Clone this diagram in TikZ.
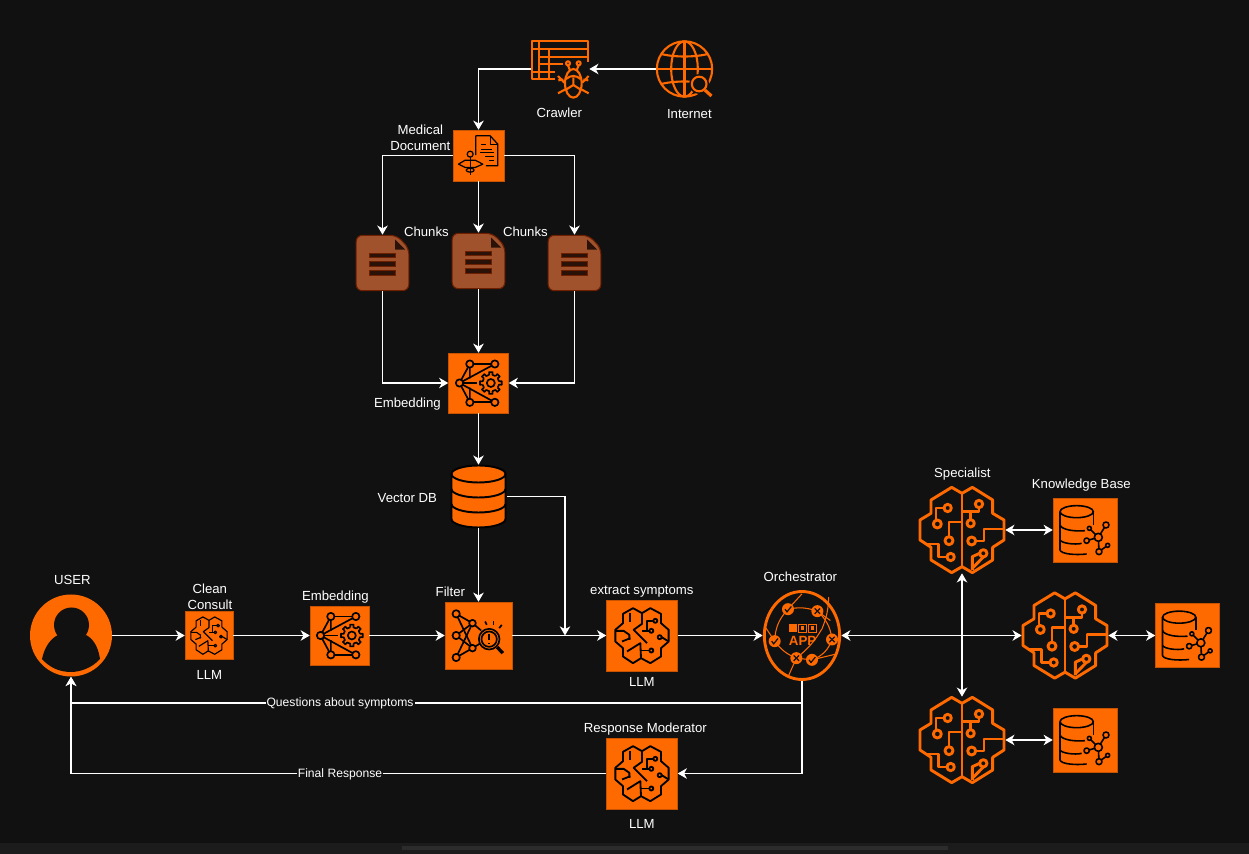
\documentclass[tikz,border=0pt]{standalone}
\usepackage{fontspec}
\setmainfont{Liberation Sans}
\usepackage{tikz}
\usetikzlibrary{shapes.geometric, arrows.meta}

\definecolor{bgdark}{HTML}{111111}
\definecolor{awsorange}{HTML}{FF6A00}
\definecolor{boxedge}{HTML}{C75300}
\definecolor{chunkfill}{HTML}{A0522D}
\definecolor{chunkedge}{HTML}{6D1F00}
\definecolor{chunkdark}{HTML}{2A1208}
\definecolor{barband}{HTML}{1C1C1C}
\definecolor{barthumb}{HTML}{2C2C2C}

\def\iconlw{1pt}

\tikzset{
    lbl/.style={text=white, font=\fontsize{7.5}{9.1}\selectfont, align=center, inner sep=0pt, xshift=0.2pt, yshift=-0.57pt},
    edgelbl/.style={text=white, fill=bgdark, font=\fontsize{6.9}{8}\selectfont, inner sep=0.6pt, yshift=-0.3pt},
    iconbox/.style={fill=awsorange, draw=boxedge, line width=0.3pt, minimum size=#1*0.02cm, inner sep=0pt},
    iconslot/.style={minimum size=#1*0.02cm, inner sep=0pt},
    link/.style={draw=white, line width=0.62pt, -{Stealth[length=5.2pt,width=6pt,inset=1.6pt]}},
    bilink/.style={draw=white, line width=0.62pt, {Stealth[length=5.2pt,width=6pt,inset=1.6pt]}-{Stealth[length=5.2pt,width=6pt,inset=1.6pt]}},
    iconpen/.style={every path/.style={line width=\iconlw, line join=round}},
    % brain with circuit traces, specialists
    agentbrain/.pic={
        \tikzset{iconpen}
        \draw (0,-110) -- (-31,-128) -- (-93,-90) -- (-93,-50) -- (-126,-30) -- (-126,30) -- (-93,52) -- (-93,90) -- (-31,128) -- (0,110) -- (31,128) -- (92,90) -- (92,52) -- (126,30) -- (126,-30) -- (92,-50) -- (92,-90) -- (31,-128) -- cycle;
        \draw (0,-110) -- (0,110);
        \draw (-43,-66) circle[radius=11];
        \draw (-54,-66) -- (-78,-66) -- (-78,-30);
        \draw (-74,-18) circle[radius=12];
        \draw (51,-78) circle[radius=11];
        \draw (51,-67) -- (51,-55) -- (0,-55);
        \draw (26,-20) circle[radius=11];
        \draw (26,-55) -- (26,-31);
        \draw (-39,32) circle[radius=12];
        \draw (-39,20) -- (-39,-24) -- (0,-24);
        \draw (29,33) circle[radius=12];
        \draw (41,33) -- (66,33) -- (66,-3) -- (126,-3);
        \draw (-34,81) circle[radius=11];
        \draw (-45,81) -- (-71,81) -- (-71,42) -- (-112,42);
        \draw (64,70) circle[radius=11];
        \draw (53,70) -- (31,80) -- (31,120);
        \draw (31,115) -- (64,81);
    },
    % smaller brain, LLM boxes
    llmbrain/.pic={
        \tikzset{iconpen}
        \draw (0,-67) -- (-27,-82) -- (-57,-65) -- (-57,-37) -- (-80,-17) -- (-80,18) -- (-57,38) -- (-57,63) -- (-27,83) -- (-3,68) -- (25,83) -- (57,63) -- (57,38) -- (80,18) -- (80,-17) -- (57,-37) -- (57,-65) -- (25,-82) -- cycle;
        \draw (0,-67) -- (0,-35) -- (-25,-17) -- (15,23);
        \draw (-37,-67) -- (-37,-40);
        \draw (-80,-14) -- (-55,-14) -- (-38,-2) -- (-38,13);
        \draw (-60,18) -- (-35,8);
        \draw (-45,48) -- (-5,23) -- (-3,68);
        \draw (40,-44) circle[radius=6];
        \draw (34,-44) -- (15,-44) -- (15,-14);
        \draw (28,-14) circle[radius=6];
        \draw (22,-14) -- (0,-14);
        \draw (53,5) circle[radius=6];
        \draw (59,5) -- (80,18);
        \draw (28,45) circle[radius=6];
        \draw (22,45) -- (-3,45);
    },
    % network with gear
    embedicon/.pic={
        \tikzset{iconpen}
        \draw (-26,-57) -- (49,-57);
        \draw (-26,58) -- (49,58);
        \draw (-57,0) -- (-26,-57) -- (-26,-14);
        \draw (-57,0) -- (-26,58) -- (-26,14);
        \draw (-57,0) -- (49,-57);
        \draw (-57,0) -- (49,58);
        \draw (-57,0) -- (-4,0);
        \foreach \p in {(-26,-57),(49,-57),(-57,0),(-26,58),(49,58)}
            \draw[fill=awsorange] \p circle[radius=11];
        \begin{scope}[shift={(37,0)}]
            \fill[awsorange] (0,0) circle[radius=33];
            \foreach \a in {0,45,...,315}
                \draw (\a-11:25) -- (\a-9:33) -- (\a+9:33) -- (\a+11:25) -- (\a+34:25);
            \draw (0,0) circle[radius=12];
        \end{scope}
    },
    % network with magnifier
    filtericon/.pic={
        \tikzset{iconpen}
        \foreach \a in {-65,0,66}
            \foreach \b in {-37,38}
                \draw (-67,\a) -- (-18,\b);
        \draw (-18,-37) -- (8,-15);
        \draw (-18,38) -- (8,22);
        \foreach \p in {(-67,-65),(-67,0),(-67,66)}
            \draw[fill=awsorange] \p circle[radius=11];
        \foreach \p in {(-18,-37),(-18,38)}
            \draw[fill=awsorange] \p circle[radius=10];
        \draw[fill=awsorange] (32,11) circle[radius=31];
        \draw (32,11) circle[radius=23];
        \draw (32,-3) -- (32,14);
        \draw (32,23) -- (32,24);
        \draw[line width=2*\pgflinewidth] (56,35) -- (73,53);
        \draw (20,-42) -- (25,-32);
        \draw (45,-42) -- (45,-32);
        \draw (70,-32) -- (62,-22);
    },
    % database with small graph
    kbicon/.pic={
        \tikzset{iconpen}
        \draw (-25,-55) ellipse[x radius=50, y radius=18];
        \draw (-75,-55) -- (-75,60) .. controls (-72,72) and (-30,76) .. (5,72);
        \draw (25,-55) -- (25,-15);
        \draw (-75,-15) .. controls (-70,0) and (-30,5) .. (0,2);
        \draw (-75,30) .. controls (-70,40) and (-30,45) .. (-10,40);
        \draw (40,22) -- (63,-15);
        \draw (40,22) -- (13,-5);
        \draw (40,22) -- (5,32);
        \draw (40,22) -- (42,65);
        \draw (42,65) -- (68,46);
        \draw[fill=awsorange] (40,22) circle[radius=12];
        \draw[fill=awsorange] (63,-15) circle[radius=9];
        \draw[fill=awsorange] (13,-5) circle[radius=6];
        \draw[fill=awsorange] (5,32) circle[radius=8];
        \draw[fill=awsorange] (42,65) circle[radius=9];
        \draw[fill=awsorange] (68,46) circle[radius=6];
    },
    % document with caduceus
    medicon/.pic={
        \tikzset{iconpen}
        \draw (-8,-1) -- (-8,-59) -- (35,-59) -- (58,-34) -- (58,31) -- (22,31);
        \draw (35,-59) -- (35,-34) -- (58,-34);
        \draw (7,-34) -- (23,-34);
        \draw (7,-18) -- (40,-18);
        \draw (5,-8) -- (47,-8);
        \draw (20,4) -- (47,4);
        \draw (30,16) -- (47,16);
        \draw (-25,-4) circle[radius=9];
        \draw (-25,5) -- (-25,59);
        \draw (-60,26) -- (-40,14) -- (-10,14) -- (13,26) -- (-10,36) -- (-40,36) -- cycle;
        \draw (-25,44) ellipse[x radius=12, y radius=6];
    },
    % chunk of a document
    chunkicon/.pic={
        \draw[fill=chunkfill, draw=chunkedge, line width=0.6pt, rounded corners=3.5pt] (-79,-83) -- (42,-83) -- (79,-45) -- (79,83) -- (-79,83) -- cycle;
        \fill[chunkdark] (38,-70) -- (68,-40) -- (38,-40) -- cycle;
        \foreach \y in {-30,-4,22}
            \draw[fill=chunkdark, draw=chunkedge, line width=0.4pt] (-38,\y) rectangle (38,\y+14);
    },
    % table with bug
    crawlericon/.pic={
        \tikzset{iconpen}
        \draw (85,-17) -- (85,-84) -- (-85,-84) -- (-85,31) -- (-15,31);
        \draw (-63,-84) -- (-63,31);
        \draw (-85,-59) -- (85,-59);
        \draw (-63,-37) -- (85,-37);
        \draw (-63,-15) -- (10,-15);
        \draw (-85,8) -- (-15,8);
        \draw (-33,-59) -- (-33,31);
        \begin{scope}[shift={(40,38)}]
            \fill[bgdark] (-32,-60) rectangle (52,50);
            \draw (0,5) ellipse[x radius=25, y radius=43];
            \draw (-22,-8) .. controls (-8,-20) and (8,-20) .. (22,-8);
            \draw (0,-13) -- (0,10) -- (-24,25);
            \draw (0,10) -- (24,25);
            \draw (-16,-55) circle[radius=6];
            \draw (16,-55) circle[radius=6];
            \draw (-16,-49) -- (-10,-34);
            \draw (16,-49) -- (10,-34);
            \draw (-46,-17) -- (-27,3);
            \draw (46,-17) -- (27,3);
            \draw (-46,35) -- (-22,22);
            \draw (46,35) -- (22,22);
            \draw (-30,-6) -- (-45,-4);
            \draw (30,-6) -- (45,-4);
        \end{scope}
    },
    % globe with magnifier
    globeicon/.pic={
        \tikzset{iconpen}
        \draw (0,0) circle[radius=83];
        \draw (0,0) ellipse[x radius=40, y radius=83];
        \draw (0,-83) -- (0,83);
        \draw (-83,0) -- (83,0);
        \draw (-70,-45) .. controls (-30,-35) and (30,-35) .. (70,-45);
        \draw (-70,45) .. controls (-30,35) and (30,35) .. (70,45);
        \fill[bgdark] (44,45) circle[radius=30];
        \fill[bgdark] (62,70) circle[radius=20];
        \draw (44,45) circle[radius=22];
        \draw[line width=1.5*\pgflinewidth] (61,63) -- (81,81);
    },
    checkdot/.pic={
        \fill[awsorange] (0,0) circle[radius=18];
        \draw[bgdark, line width=0.7pt] (-9,0) -- (-3,8) -- (10,-8);
    },
    crossdot/.pic={
        \fill[awsorange] (0,0) circle[radius=18];
        \draw[bgdark, line width=0.7pt] (-8,-8) -- (8,8);
        \draw[bgdark, line width=0.7pt] (-8,8) -- (8,-8);
    },
    % agent network with check and cross marks
    orchicon/.pic={
        \draw[line width=1.65pt] (0,0) ellipse[x radius=113, y radius=132];
        \begin{scope}[line width=0.6pt]
            \draw (-42,-79) to[bend left=15] (46,-73);
            \draw (46,-73) to[bend left=20] (90,12);
            \draw (-42,-79) to[bend right=20] (-82,17);
            \draw (-82,17) to[bend right=15] (-17,68);
            \draw (-17,68) -- (30,73);
            \draw (30,73) to[bend right=25] (90,12);
            \draw (-42,-79) -- (0,-125);
            \draw (-82,17) -- (-110,-25);
            \draw (-17,68) -- (-40,120);
            \draw (30,73) -- (105,55);
            \draw (46,-73) -- (85,-45);
            \draw (-17,68) to[bend right=10] (60,-20);
            \draw (60,-20) to[bend right=10] (80,-115);
        \end{scope}
        \pic[transform shape] at (-42,-79) {checkdot};
        \pic[transform shape] at (46,-73) {crossdot};
        \pic[transform shape] at (-82,17) {checkdot};
        \pic[transform shape] at (90,12) {crossdot};
        \pic[transform shape] at (-17,68) {crossdot};
        \pic[transform shape] at (30,73) {checkdot};
        \fill[bgdark] (-45,-36) rectangle (48,-8);
        \fill (-38,-33) rectangle (-15,-10);
        \draw[line width=0.5pt] (-10,-33) rectangle (12,-10);
        \draw[line width=0.5pt] (20,-33) rectangle (44,-10);
        \fill (-4,-28) rectangle (6,-15);
        \fill (27,-27) rectangle (37,-16);
        \node[text=awsorange, font=\fontsize{7.6}{8}\bfseries\selectfont, inner sep=0pt] (appname) at (2,17) {APP};
    },
}

\begin{document}
\begin{tikzpicture}[x=0.02cm, y=-0.02cm]
    \useasboundingbox (0,0) rectangle (1249,854);
    % Draw the dark canvas and the scroll bar
    \fill[bgdark] (0,0) rectangle (1249,854);
    \fill[barband] (0,843) rectangle (1249,854);
    \fill[barthumb] (402,846) rectangle (948,850);

    % Ingestion nodes
    \node[iconslot=57] (internet) at (684.5,69) {};
    \node[iconslot=58] (crawler) at (560,69) {};
    \node[iconbox=51] (medical) at (478.5,155.5) {};
    \node[iconslot=53, minimum height=56*0.02cm] (chunkleft) at (382.5,263) {};
    \node[iconslot=53, minimum height=56*0.02cm] (chunkmid) at (478.5,261) {};
    \node[iconslot=53, minimum height=56*0.02cm] (chunkright) at (574.5,263) {};
    \node[iconbox=60] (embedtop) at (478.5,383) {};
    \node[iconslot=56, minimum height=63*0.02cm] (vectordb) at (478.5,496.5) {};

    % Consultation nodes
    \node[circle, fill=awsorange, iconslot=82] (user) at (71,635.5) {};
    \node[iconbox=48] (clean) at (209,635.5) {};
    \node[iconbox=59] (embedlow) at (339.5,635.5) {};
    \node[iconbox=67] (filter) at (478.5,635.5) {};
    \node[iconbox=71] (extract) at (642,635.5) {};
    \node[ellipse, iconslot=78, minimum height=90*0.02cm] (orch) at (802,635.5) {};
    \node[iconbox=71] (moderator) at (642,773.5) {};

    % Specialists and their knowledge bases
    \node[iconslot=86] (specialist) at (962,530) {};
    \node[iconslot=86] (brainmid) at (1065,635.5) {};
    \node[iconslot=86] (brainlow) at (962,740) {};
    \node[iconbox=64] (kbtop) at (1085,530) {};
    \node[iconbox=64] (kbmid) at (1187.5,635.5) {};
    \node[iconbox=64] (kblow) at (1085,740) {};

    % Draw the icons
    \def\iconlw{1.2pt}
    \pic[awsorange, scale=1/3] at (internet) {globeicon};
    \pic[awsorange, scale=1/3] at (crawler) {crawlericon};
    \def\iconlw{0.7pt}
    \pic[black, scale=1/3] at (medical) {medicon};
    \pic[scale=1/3] at (chunkleft) {chunkicon};
    \pic[scale=1/3] at (chunkmid) {chunkicon};
    \pic[scale=1/3] at (chunkright) {chunkicon};
    \def\iconlw{0.95pt}
    \pic[black, scale=1/3] at (embedtop) {embedicon};
    \pic[black, scale=1/3] at (embedlow) {embedicon};
    \pic[black, scale=1/3] at (filter) {filtericon};
    \def\iconlw{0.65pt}
    \pic[black, scale=0.2264] at (clean) {llmbrain};
    \def\iconlw{1.05pt}
    \pic[black, scale=1/3] at (extract) {llmbrain};
    \pic[black, scale=1/3] at (moderator) {llmbrain};
    \def\iconlw{1.65pt}
    \pic[awsorange, scale=1/3] at (specialist) {agentbrain};
    \pic[awsorange, scale=1/3] at (brainmid) {agentbrain};
    \pic[awsorange, scale=1/3] at (brainlow) {agentbrain};
    \def\iconlw{0.9pt}
    \pic[black, scale=1/3] at (kbtop) {kbicon};
    \pic[black, scale=1/3] at (kbmid) {kbicon};
    \pic[black, scale=1/3] at (kblow) {kbicon};
    \pic[awsorange, scale=1/3] at (orch) {orchicon};

    % Draw the database
    \draw[fill=awsorange, draw=black, line width=1.1pt] (451.5,474) -- (451.5,519) arc[start angle=180, end angle=0, x radius=27, y radius=8.5] -- (505.5,474) arc[start angle=0, end angle=-180, x radius=27, y radius=8.5] -- cycle;
    \draw[black, line width=1.1pt] (451.5,474) arc[start angle=180, end angle=0, x radius=27, y radius=8.5];
    \draw[black, line width=1.1pt] (451.5,489) arc[start angle=180, end angle=0, x radius=27, y radius=8.5];
    \draw[black, line width=1.1pt] (451.5,504) arc[start angle=180, end angle=0, x radius=27, y radius=8.5];

    % Draw the user
    \fill[bgdark] (42,659) .. controls (45,645) and (52,638) .. (58,635) .. controls (62,642) and (80,642) .. (86,635) .. controls (92,638) and (98,645) .. (100,659) .. controls (92,668) and (80,672) .. (71,672) .. controls (60,672) and (50,668) .. (42,659) -- cycle;
    \fill[bgdark] (71.5,625) circle[radius=17.5];

    % Draw the connectors
    \draw[link] (internet.west) -- (crawler.east);
    \draw[link] (crawler.west) -| (medical.north);
    \draw[link] (medical.west) -| (chunkleft.north);
    \draw[link] (medical.south) -- (chunkmid.north);
    \draw[link] (medical.east) -| (chunkright.north);
    \draw[link] (chunkleft.south) |- (embedtop.west);
    \draw[link] (chunkmid.south) -- (embedtop.north);
    \draw[link] (chunkright.south) |- (embedtop.east);
    \draw[link] (embedtop.south) -- (vectordb.north);
    \draw[link] (vectordb.south) -- (filter.north);
    \coordinate (merge) at (565,635.5);
    \draw[link] (vectordb.east) -| (merge);
    \draw[link] (user.east) -- (clean.west);
    \draw[link] (clean.east) -- (embedlow.west);
    \draw[link] (embedlow.east) -- (filter.west);
    \draw[link] (filter.east) -- (extract.west);
    \draw[link] (extract.east) -- (orch.west);
    \draw[bilink] (orch.east) -- (brainmid.west);
    \draw[bilink] (specialist.south) -- (brainlow.north);
    \draw[bilink] (specialist.east) -- (kbtop.west);
    \draw[bilink] (brainmid.east) -- (kbmid.west);
    \draw[bilink] (brainlow.east) -- (kblow.west);
    \coordinate (questions) at (340,703);
    \coordinate (final) at (340,773.5);
    \draw[link] (orch.south) |- (questions) -| (user.south);
    \draw[link] (orch.south) |- (moderator.east);
    \draw[link] (moderator.west) -- (final) -| (user.south);
    \node[edgelbl] (questionslbl) at (questions) {Questions about symptoms};
    \node[edgelbl] (finallbl) at (final) {Final Response};

    % Label the nodes
    \node[lbl] (internetlbl) at (689,113) {Internet};
    \node[lbl] (crawlerlbl) at (559,112) {Crawler};
    \node[lbl] (medicallbl) at (420,137) {Medical\\Document};
    \node[lbl] (chunkslblleft) at (426,231) {Chunks};
    \node[lbl] (chunkslblright) at (525,231) {Chunks};
    \node[lbl] (embedtoplbl) at (407,403) {Embedding};
    \node[lbl] (vectordblbl) at (407,497.5) {Vector DB};
    \node[lbl] (userlbl) at (72,579) {USER};
    \node[lbl] (cleanlbl) at (209.5,596) {Clean\\Consult};
    \node[lbl] (cleanllm) at (209,674) {LLM};
    \node[lbl] (embedlowlbl) at (335,596) {Embedding};
    \node[lbl] (filterlbl) at (450,591) {Filter};
    \node[lbl] (extractlbl) at (641.5,591) {extract symptoms};
    \node[lbl] (extractllm) at (641.5,681) {LLM};
    \node[lbl] (orchlbl) at (800,576) {Orchestrator};
    \node[lbl] (moderatorlbl) at (645,728) {Response Moderator};
    \node[lbl] (moderatorllm) at (641.5,822.5) {LLM};
    \node[lbl] (specialistlbl) at (962,473) {Specialist};
    \node[lbl] (kblbl) at (1081,484) {Knowledge Base};
\end{tikzpicture}
\end{document}
